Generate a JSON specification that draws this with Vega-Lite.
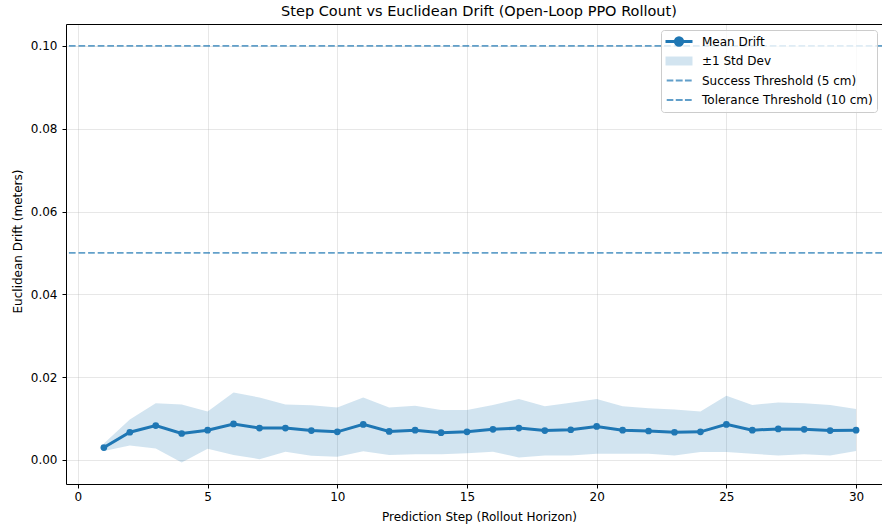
{
  "$schema": "https://vega.github.io/schema/vega-lite/v6.json",
  "autosize": {"type": "none"},
  "padding": {"left": 66, "top": 24, "right": 0, "bottom": 43},
  "width": 816,
  "height": 460,
  "background": "white",
  "config": {
    "font": "DejaVu Sans",
    "view": {"stroke": null},
    "axis": {
      "domainColor": "black", "domainWidth": 1,
      "tickColor": "black", "tickWidth": 1, "tickSize": 4,
      "labelFontSize": 12, "labelColor": "black", "labelPadding": 3, "labelFont": "DejaVu Sans",
      "titleFontSize": 12, "titleFontWeight": "normal", "titleColor": "black", "titleFont": "DejaVu Sans",
      "gridColor": "#b0b0b0", "gridOpacity": 0.3, "gridWidth": 1
    },
    "legend": {
      "orient": "none", "legendX": 595, "legendY": 6,
      "labelFontSize": 12, "labelFont": "DejaVu Sans", "labelColor": "black", "labelLimit": 400,
      "fillColor": "rgba(255,255,255,0.8)", "strokeColor": "#cccccc", "cornerRadius": 3,
      "padding": 4, "symbolOffset": 8, "labelOffset": 17, "rowPadding": 4.5, "clipHeight": 15
    }
  },
  "title": {
    "text": "Step Count vs Euclidean Drift (Open-Loop PPO Rollout)",
    "fontSize": 14.5, "fontWeight": "normal", "color": "black", "font": "DejaVu Sans",
    "anchor": "middle", "frame": "group", "offset": 5, "dx": 5
  },
  "datasets": {
    "drift": [
      {"step": 1, "mean": 0.0030, "lo": 0.0022, "hi": 0.0040},
      {"step": 2, "mean": 0.0067, "lo": 0.0035, "hi": 0.0098},
      {"step": 3, "mean": 0.0083, "lo": 0.0028, "hi": 0.0137},
      {"step": 4, "mean": 0.0064, "lo": -0.0006, "hi": 0.0134},
      {"step": 5, "mean": 0.0072, "lo": 0.0027, "hi": 0.0117},
      {"step": 6, "mean": 0.0087, "lo": 0.0012, "hi": 0.0163},
      {"step": 7, "mean": 0.0077, "lo": 0.0002, "hi": 0.0151},
      {"step": 8, "mean": 0.0077, "lo": 0.0020, "hi": 0.0134},
      {"step": 9, "mean": 0.0071, "lo": 0.0010, "hi": 0.0132},
      {"step": 10, "mean": 0.0068, "lo": 0.0008, "hi": 0.0127},
      {"step": 11, "mean": 0.0086, "lo": 0.0021, "hi": 0.0151},
      {"step": 12, "mean": 0.0069, "lo": 0.0012, "hi": 0.0127},
      {"step": 13, "mean": 0.0072, "lo": 0.0014, "hi": 0.0131},
      {"step": 14, "mean": 0.0066, "lo": 0.0014, "hi": 0.0121},
      {"step": 15, "mean": 0.0068, "lo": 0.0016, "hi": 0.0121},
      {"step": 16, "mean": 0.0074, "lo": 0.0020, "hi": 0.0133},
      {"step": 17, "mean": 0.0077, "lo": 0.0006, "hi": 0.0147},
      {"step": 18, "mean": 0.0071, "lo": 0.0011, "hi": 0.0130},
      {"step": 19, "mean": 0.0073, "lo": 0.0011, "hi": 0.0138},
      {"step": 20, "mean": 0.0081, "lo": 0.0015, "hi": 0.0147},
      {"step": 21, "mean": 0.0072, "lo": 0.0015, "hi": 0.0130},
      {"step": 22, "mean": 0.0070, "lo": 0.0015, "hi": 0.0125},
      {"step": 23, "mean": 0.0067, "lo": 0.0011, "hi": 0.0122},
      {"step": 24, "mean": 0.0068, "lo": 0.0019, "hi": 0.0117},
      {"step": 25, "mean": 0.0086, "lo": 0.0019, "hi": 0.0155},
      {"step": 26, "mean": 0.0072, "lo": 0.0015, "hi": 0.0133},
      {"step": 27, "mean": 0.0075, "lo": 0.0011, "hi": 0.0139},
      {"step": 28, "mean": 0.0074, "lo": 0.0014, "hi": 0.0137},
      {"step": 29, "mean": 0.0071, "lo": 0.0011, "hi": 0.0133},
      {"step": 30, "mean": 0.0072, "lo": 0.0022, "hi": 0.0123}
    ],
    "thresholds": [
      {"label": "Success Threshold (5 cm)", "value": 0.05},
      {"label": "Tolerance Threshold (10 cm)", "value": 0.10}
    ]
  },
  "layer": [
    {
      "data": {"name": "drift"},
      "mark": {"type": "area", "opacity": 0.2},
      "encoding": {
        "x": {
          "field": "step", "type": "quantitative",
          "scale": {"domain": [-0.46, 31.0], "nice": false, "zero": false},
          "axis": {
            "orient": "bottom", "values": [0, 5, 10, 15, 20, 25, 30], "format": "d",
            "grid": true, "labelFlush": false,
            "title": "Prediction Step (Rollout Horizon)",
            "titleX": 413, "titleY": 32, "titleBaseline": "middle", "titleAlign": "center"
          }
        },
        "y": {
          "field": "lo", "type": "quantitative",
          "scale": {"domain": [-0.0058, 0.1053], "nice": false, "zero": false},
          "axis": {
            "values": [0, 0.02, 0.04, 0.06, 0.08, 0.1], "format": ".2f",
            "grid": true, "labelFlush": false, "labelPadding": 5,
            "title": "Euclidean Drift (meters)",
            "titleX": -49, "titleY": 217, "titleBaseline": "middle", "titleAlign": "center", "titleAngle": -90
          }
        },
        "y2": {"field": "hi"},
        "color": {
          "datum": "±1 Std Dev",
          "scale": {
            "domain": ["Mean Drift", "±1 Std Dev", "Success Threshold (5 cm)", "Tolerance Threshold (10 cm)"],
            "range": ["#1f77b4", "#1f77b4", "#1f77b4", "#1f77b4"]
          },
          "legend": {
            "title": null, "symbolOffset": 8, "labelOffset": 17, "rowPadding": 4.5, "clipHeight": 15, "padding": 4,
            "encode": {
              "symbols": {
                "update": {
                  "shape": {"signal": "datum.value === 'Mean Drift' ? 'M-1,0H1M0.27,0A0.27,0.27,0,1,1,-0.27,0A0.27,0.27,0,1,1,0.27,0Z' : (datum.value === '±1 Std Dev' ? 'M-1,-0.33H1V0.33H-1Z' : 'M-0.91,0H-0.42M-0.24,0H0.27M0.44,0H0.94')"},
                  "fill": {"signal": "datum.value === 'Mean Drift' || datum.value === '±1 Std Dev' ? '#1f77b4' : 'transparent'"},
                  "stroke": {"value": "#1f77b4"},
                  "strokeWidth": {"signal": "datum.value === 'Mean Drift' ? 3 : (datum.value === '±1 Std Dev' ? 0 : 1.8)"},
                  "size": {"value": 729},
                  "opacity": {"signal": "datum.value === 'Mean Drift' ? 1 : (datum.value === '±1 Std Dev' ? 0.2 : 0.7)"},
                  "fillOpacity": {"value": 1},
                  "strokeOpacity": {"value": 1}
                }
              }
            }
          }
        }
      }
    },
    {
      "data": {"name": "drift"},
      "mark": {"type": "line", "strokeWidth": 3, "point": {"filled": true, "size": 45}},
      "encoding": {
        "x": {
          "field": "step", "type": "quantitative",
          "scale": {"domain": [-0.46, 31.0], "nice": false, "zero": false},
          "axis": {"orient": "top", "labels": false, "ticks": false, "grid": false, "title": null, "domain": true}
        },
        "y": {
          "field": "mean", "type": "quantitative",
          "scale": {"domain": [-0.0058, 0.1053], "nice": false, "zero": false},
          "axis": {
            "values": [0, 0.02, 0.04, 0.06, 0.08, 0.1], "format": ".2f",
            "grid": true, "labelFlush": false, "labelPadding": 5,
            "title": "Euclidean Drift (meters)",
            "titleX": -49, "titleY": 217, "titleBaseline": "middle", "titleAlign": "center", "titleAngle": -90
          }
        },
        "color": {
          "datum": "Mean Drift",
          "scale": {
            "domain": ["Mean Drift", "±1 Std Dev", "Success Threshold (5 cm)", "Tolerance Threshold (10 cm)"],
            "range": ["#1f77b4", "#1f77b4", "#1f77b4", "#1f77b4"]
          },
          "legend": {
            "title": null, "symbolOffset": 8, "labelOffset": 17, "rowPadding": 4.5, "clipHeight": 15, "padding": 4,
            "encode": {
              "symbols": {
                "update": {
                  "shape": {"signal": "datum.value === 'Mean Drift' ? 'M-1,0H1M0.27,0A0.27,0.27,0,1,1,-0.27,0A0.27,0.27,0,1,1,0.27,0Z' : (datum.value === '±1 Std Dev' ? 'M-1,-0.33H1V0.33H-1Z' : 'M-0.91,0H-0.42M-0.24,0H0.27M0.44,0H0.94')"},
                  "fill": {"signal": "datum.value === 'Mean Drift' || datum.value === '±1 Std Dev' ? '#1f77b4' : 'transparent'"},
                  "stroke": {"value": "#1f77b4"},
                  "strokeWidth": {"signal": "datum.value === 'Mean Drift' ? 3 : (datum.value === '±1 Std Dev' ? 0 : 1.8)"},
                  "size": {"value": 729},
                  "opacity": {"signal": "datum.value === 'Mean Drift' ? 1 : (datum.value === '±1 Std Dev' ? 0.2 : 0.7)"},
                  "fillOpacity": {"value": 1},
                  "strokeOpacity": {"value": 1}
                }
              }
            }
          }
        }
      }
    },
    {
      "data": {"name": "thresholds"},
      "mark": {"type": "rule", "strokeDash": [6.7, 2.9], "strokeWidth": 1.8, "opacity": 0.7},
      "encoding": {
        "y": {
          "field": "value", "type": "quantitative",
          "scale": {"domain": [-0.0058, 0.1053], "nice": false, "zero": false},
          "axis": {
            "values": [0, 0.02, 0.04, 0.06, 0.08, 0.1], "format": ".2f",
            "grid": true, "labelFlush": false, "labelPadding": 5,
            "title": "Euclidean Drift (meters)",
            "titleX": -49, "titleY": 217, "titleBaseline": "middle", "titleAlign": "center", "titleAngle": -90
          }
        },
        "color": {
          "field": "label", "type": "nominal",
          "scale": {
            "domain": ["Mean Drift", "±1 Std Dev", "Success Threshold (5 cm)", "Tolerance Threshold (10 cm)"],
            "range": ["#1f77b4", "#1f77b4", "#1f77b4", "#1f77b4"]
          },
          "legend": {
            "title": null, "symbolOffset": 8, "labelOffset": 17, "rowPadding": 4.5, "clipHeight": 15, "padding": 4,
            "encode": {
              "symbols": {
                "update": {
                  "shape": {"signal": "datum.value === 'Mean Drift' ? 'M-1,0H1M0.27,0A0.27,0.27,0,1,1,-0.27,0A0.27,0.27,0,1,1,0.27,0Z' : (datum.value === '±1 Std Dev' ? 'M-1,-0.33H1V0.33H-1Z' : 'M-0.91,0H-0.42M-0.24,0H0.27M0.44,0H0.94')"},
                  "fill": {"signal": "datum.value === 'Mean Drift' || datum.value === '±1 Std Dev' ? '#1f77b4' : 'transparent'"},
                  "stroke": {"value": "#1f77b4"},
                  "strokeWidth": {"signal": "datum.value === 'Mean Drift' ? 3 : (datum.value === '±1 Std Dev' ? 0 : 1.8)"},
                  "size": {"value": 729},
                  "opacity": {"signal": "datum.value === 'Mean Drift' ? 1 : (datum.value === '±1 Std Dev' ? 0.2 : 0.7)"},
                  "fillOpacity": {"value": 1},
                  "strokeOpacity": {"value": 1}
                }
              }
            }
          }
        }
      }
    }
  ]
}
